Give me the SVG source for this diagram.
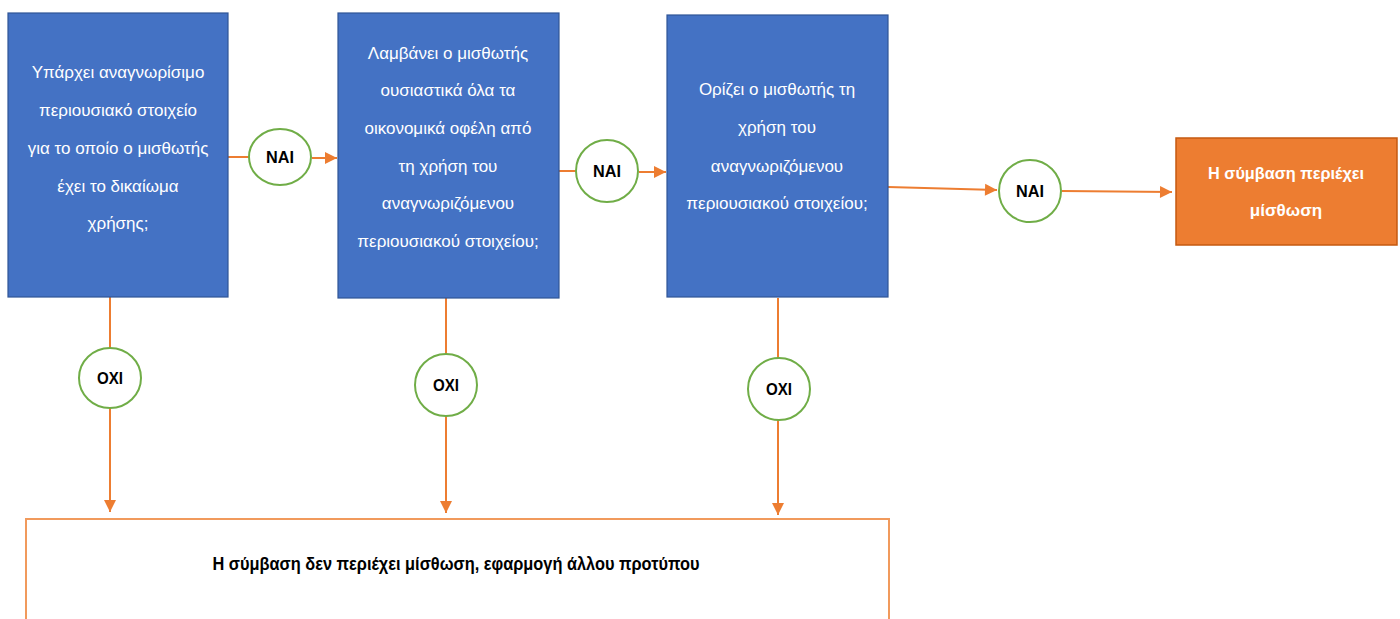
<svg xmlns="http://www.w3.org/2000/svg" width="1400" height="619" viewBox="0 0 1400 619">
<style>
.q{fill:#4472C4;stroke:#2F5597;stroke-width:1.2}
.qt{font-family:"Liberation Sans",Arial,sans-serif;font-size:17px;fill:#ffffff;text-anchor:middle}
.res{fill:#ED7D31;stroke:#C55A11;stroke-width:1.5}
.rt{font-family:"Liberation Sans",Arial,sans-serif;font-size:17px;font-weight:bold;fill:#ffffff;text-anchor:middle}
.c{fill:#ffffff;stroke:#70AD47;stroke-width:2}
.ct{font-family:"Liberation Sans",Arial,sans-serif;font-size:17px;font-weight:bold;fill:#000000;text-anchor:middle}
.ln{fill:none;stroke:#ED7D31;stroke-width:2}
.bt{font-family:"Liberation Sans",Arial,sans-serif;font-size:18px;font-weight:bold;fill:#000000;text-anchor:middle}
</style>
<defs>
<marker id="ah" markerUnits="userSpaceOnUse" markerWidth="14" markerHeight="14" viewBox="0 0 14 14" refX="13" refY="7" orient="auto">
<path d="M1,1 L13,7 L1,13 Z" fill="#ED7D31"/>
</marker>
</defs>
<rect width="1400" height="619" fill="#ffffff"/>
<g id="connectors">
<line class="ln" x1="228" y1="157" x2="249" y2="157"/>
<line class="ln" x1="312" y1="158" x2="337" y2="158" marker-end="url(#ah)"/>
<line class="ln" x1="559" y1="171" x2="576" y2="171"/>
<line class="ln" x1="639" y1="172" x2="666" y2="172" marker-end="url(#ah)"/>
<line class="ln" x1="888" y1="187" x2="997" y2="190" marker-end="url(#ah)"/>
<line class="ln" x1="1062" y1="191" x2="1172" y2="192" marker-end="url(#ah)"/>
<line class="ln" x1="110" y1="297" x2="110" y2="348"/>
<line class="ln" x1="110" y1="408" x2="110" y2="512" marker-end="url(#ah)"/>
<line class="ln" x1="446" y1="298" x2="446" y2="354"/>
<line class="ln" x1="446" y1="416" x2="446" y2="513" marker-end="url(#ah)"/>
<line class="ln" x1="778" y1="298" x2="778" y2="358"/>
<line class="ln" x1="778" y1="420" x2="778" y2="515" marker-end="url(#ah)"/>
</g>
<g id="q1">
<rect class="q" x="8" y="13" width="220" height="284"/>
<text class="qt" x="118" y="78">Υπάρχει αναγνωρίσιμο</text>
<text class="qt" x="118" y="116">περιουσιακό στοιχείο</text>
<text class="qt" x="118" y="154">για το οποίο ο μισθωτής</text>
<text class="qt" x="118" y="192">έχει το δικαίωμα</text>
<text class="qt" x="118" y="229">χρήσης;</text>
</g>
<g id="q2">
<rect class="q" x="338" y="13" width="221" height="285"/>
<text class="qt" x="448" y="59">Λαμβάνει ο μισθωτής</text>
<text class="qt" x="448" y="96">ουσιαστικά όλα τα</text>
<text class="qt" x="448" y="134">οικονομικά οφέλη από</text>
<text class="qt" x="448" y="172">τη χρήση του</text>
<text class="qt" x="448" y="209">αναγνωριζόμενου</text>
<text class="qt" x="448" y="247">περιουσιακού στοιχείου;</text>
</g>
<g id="q3">
<rect class="q" x="667" y="15" width="221" height="282"/>
<text class="qt" x="777" y="95">Ορίζει ο μισθωτής τη</text>
<text class="qt" x="777" y="133">χρήση του</text>
<text class="qt" x="777" y="172">αναγνωριζόμενου</text>
<text class="qt" x="777" y="209">περιουσιακού στοιχείου;</text>
</g>
<g id="lease">
<rect class="res" x="1176" y="138" width="221" height="107"/>
<text class="rt" x="1286" y="179" textLength="156" lengthAdjust="spacingAndGlyphs">Η σύμβαση περιέχει</text>
<text class="rt" x="1286" y="216">μίσθωση</text>
</g>
<g id="nolease">
<rect x="26" y="519" width="863" height="130" fill="#ffffff" stroke="#F19A5C" stroke-width="2"/>
<text class="bt" x="456" y="570" textLength="487" lengthAdjust="spacingAndGlyphs">Η σύμβαση δεν περιέχει μίσθωση, εφαρμογή άλλου προτύπου</text>
</g>
<g id="yes1"><ellipse class="c" cx="280" cy="157" rx="31" ry="28"/><text class="ct" x="280" y="163" textLength="28" lengthAdjust="spacingAndGlyphs">NAI</text></g>
<g id="yes2"><ellipse class="c" cx="607" cy="171" rx="31" ry="31"/><text class="ct" x="607" y="177" textLength="28" lengthAdjust="spacingAndGlyphs">NAI</text></g>
<g id="yes3"><ellipse class="c" cx="1030" cy="191" rx="31" ry="31"/><text class="ct" x="1030" y="197" textLength="28" lengthAdjust="spacingAndGlyphs">NAI</text></g>
<g id="no1"><ellipse class="c" cx="110" cy="378" rx="31" ry="30"/><text class="ct" x="110" y="384" textLength="26" lengthAdjust="spacingAndGlyphs">OXI</text></g>
<g id="no2"><ellipse class="c" cx="446" cy="385" rx="31" ry="31"/><text class="ct" x="446" y="391" textLength="26" lengthAdjust="spacingAndGlyphs">OXI</text></g>
<g id="no3"><ellipse class="c" cx="779" cy="389" rx="31" ry="31"/><text class="ct" x="779" y="395" textLength="26" lengthAdjust="spacingAndGlyphs">OXI</text></g>
</svg>
